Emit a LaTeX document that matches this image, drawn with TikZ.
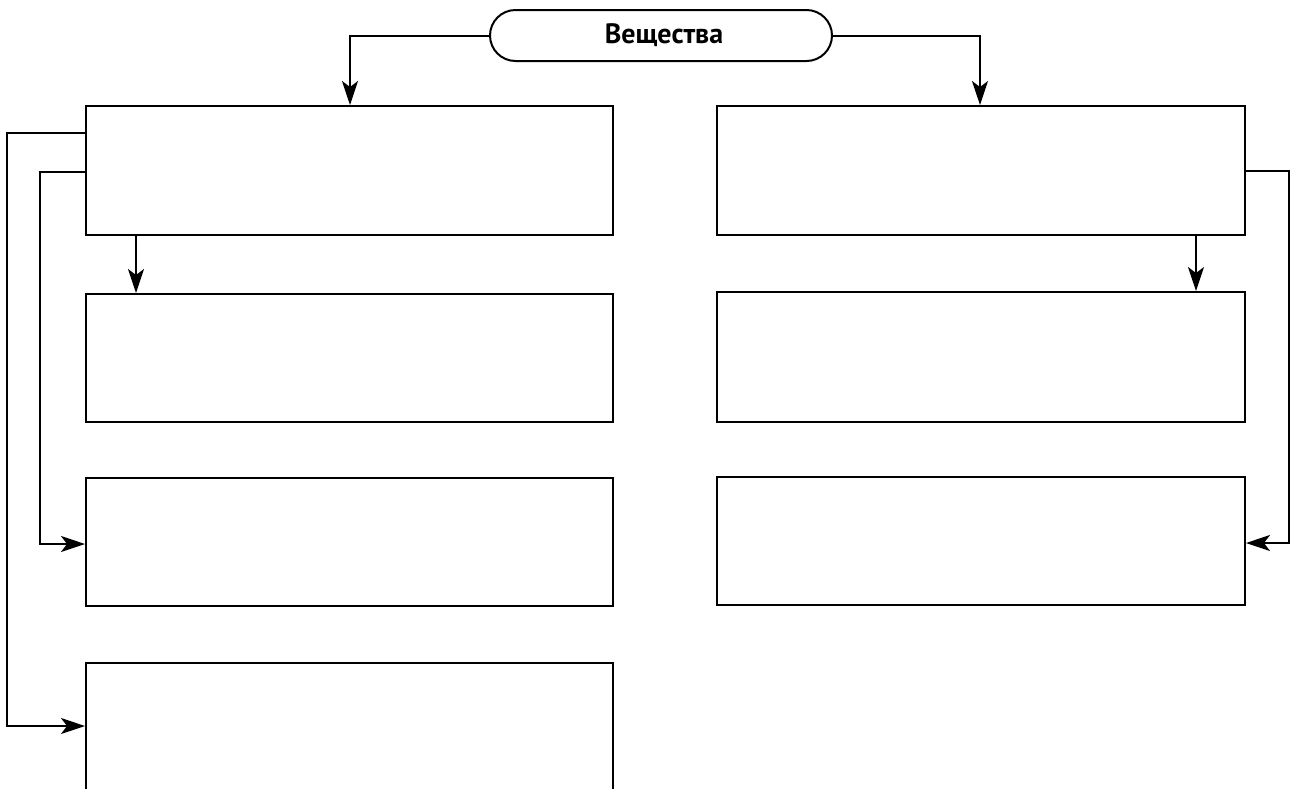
\documentclass[tikz,border=0pt]{standalone}
\usepackage{fontspec}
\setmainfont{PT Sans}
\usetikzlibrary{arrows.meta,shapes.misc}
\begin{document}
\begin{tikzpicture}[x=1pt,y=-1pt,
  box/.style={draw,line width=2pt,inner sep=0pt},
  conn/.style={line width=2pt,-{Stealth[length=24pt,width=16pt,inset=6pt]}}]
\useasboundingbox (0,0) rectangle (1301,788);
\fill[white] (0,0) rectangle (1301,788);
% top pill
\node[draw,line width=2pt,rounded rectangle,minimum width=342pt,minimum height=51pt,inner sep=0pt,font=\bfseries\fontsize{28}{32}\selectfont] (top) at (661,35.5) {\hspace*{6pt}Вещества};
% left column
\node[box,minimum width=527pt,minimum height=129pt] (L1) at (349.5,170.5) {};
\node[box,minimum width=527pt,minimum height=128pt] (L2) at (349.5,358) {};
\node[box,minimum width=527pt,minimum height=128pt] (L3) at (349.5,542) {};
\node[box,minimum width=527pt,minimum height=140pt] (L4) at (349.5,733) {};
% right column
\node[box,minimum width=528pt,minimum height=129pt] (R1) at (981,170.5) {};
\node[box,minimum width=528pt,minimum height=130pt] (R2) at (981,357) {};
\node[box,minimum width=528pt,minimum height=128pt] (R3) at (981,541) {};
% connectors from top
\draw[conn] (top.west) -| (L1.north -| 350,0);
\draw[conn] (top.east) -| (R1.north -| 980,0);
% left side
\draw[conn] (L1.south -| 136,0) -- (L2.north -| 136,0);
\coordinate (a1) at (7,133);
\coordinate (a2) at (7,726);
\draw[conn] (L1.west |- a1) -- (a1) -- (a2) -- (L4.west |- a2);
\coordinate (b1) at (40,172);
\coordinate (b2) at (40,544);
\draw[conn] (L1.west |- b1) -- (b1) -- (b2) -- (L3.west |- b2);
% right side
\draw[conn] (R1.south -| 1196,0) -- (R2.north -| 1196,0);
\coordinate (c1) at (1289,171);
\coordinate (c2) at (1289,543);
\draw[conn] (R1.east |- c1) -- (c1) -- (c2) -- (R3.east |- c2);
\end{tikzpicture}
\end{document}
